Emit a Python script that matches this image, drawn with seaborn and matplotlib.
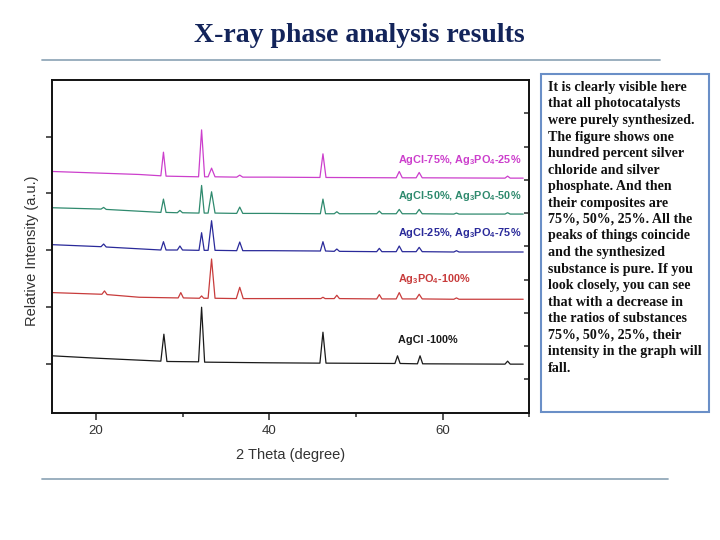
import matplotlib
matplotlib.use("Agg")
import matplotlib.pyplot as plt
from matplotlib.lines import Line2D
from matplotlib.patches import Rectangle
import seaborn as sns
import pandas as pd

# ---------------- data ----------------
title = "X-ray phase analysis results"
x_label = "2 Theta (degree)"
y_label = "Relative Intensity (a.u.)"
x_ticks = [20, 40, 60]
x_minor_ticks = [30, 50, 70]
left_y_ticks = [14.5, 31.8, 49.0, 66.0, 83.0]
right_y_ticks = [10, 20, 30, 40, 50, 60, 70, 80, 90]

series_names = ["AgCl -100%", "Ag3PO4-100%", "AgCl-25%, Ag3PO4-75%",
                "AgCl-50%, Ag3PO4-50%", "AgCl-75%, Ag3PO4-25%"]
series_labels = ["AgCl -100%", r"Ag$_\mathbf{3}$PO$_\mathbf{4}$-100%",
                 r"AgCl-25%, Ag$_\mathbf{3}$PO$_\mathbf{4}$-75%",
                 r"AgCl-50%, Ag$_\mathbf{3}$PO$_\mathbf{4}$-50%",
                 r"AgCl-75%, Ag$_\mathbf{3}$PO$_\mathbf{4}$-25%"]
series_colors = ["#1a1a1a", "#c83c3c", "#2a2a9a", "#2f8a6e", "#cc3fcc"]
label_y = [21.8, 40.2, 54.0, 65.0, 76.0]
label_x = 54.9

agcl100_x = [15, 20, 25, 27.5, 27.85, 28.2, 31.85, 32.2, 32.55, 40,
             45.85, 46.2, 46.55, 54.5, 54.8, 55.1, 57.1, 57.4, 57.7,
             67.2, 67.5, 67.8, 69.3]
agcl100_y = [17.1, 16.4, 15.8, 15.5, 23.6, 15.4, 15.3, 31.7, 15.2, 15.0,
             14.9, 24.2, 14.9, 14.8, 17.1, 14.8, 14.7, 17.1, 14.7,
             14.6, 15.5, 14.6, 14.6]

ag3po4_x = [15, 20.7, 21.0, 21.3, 25, 29.5, 29.8, 30.1, 31.95, 32.2, 32.45,
            32.95, 33.35, 33.75, 36.2, 36.6, 37.0, 40, 45.95, 46.2, 46.45,
            47.5, 47.8, 48.1, 52.4, 52.7, 53.0, 54.65, 55.0, 55.35,
            56.95, 57.3, 57.65, 61.3, 61.6, 61.9, 69.3]
ag3po4_y = [36.1, 35.6, 36.6, 35.5, 34.7, 34.5, 36.1, 34.5, 34.4, 35.1, 34.4,
            34.4, 46.2, 34.4, 34.3, 37.7, 34.3, 34.3, 34.3, 34.7, 34.3,
            34.3, 35.3, 34.3, 34.2, 35.5, 34.2, 34.2, 36.1, 34.2,
            34.2, 35.6, 34.2, 34.1, 34.5, 34.1, 34.1]

mix25_x = [15, 20.6, 20.9, 21.2, 27.5, 27.8, 28.1, 29.4, 29.7, 30.0,
           31.9, 32.2, 32.5, 32.95, 33.35, 33.75, 36.25, 36.6, 36.95, 40,
           45.9, 46.2, 46.5, 47.5, 47.8, 48.1, 52.4, 52.7, 53.0,
           54.65, 55.0, 55.35, 56.95, 57.3, 57.65, 61.3, 61.6, 61.9, 69.3]
mix25_y = [50.5, 49.9, 50.7, 49.8, 48.9, 51.4, 48.9, 48.9, 50.1, 48.9,
           48.8, 54.1, 48.8, 48.8, 57.7, 48.8, 48.7, 51.3, 48.7, 48.7,
           48.6, 51.4, 48.6, 48.5, 49.2, 48.5, 48.4, 49.4, 48.4,
           48.4, 50.1, 48.4, 48.4, 49.7, 48.4, 48.3, 48.7, 48.3, 48.3]

mix50_x = [15, 20.6, 20.9, 21.2, 27.5, 27.8, 28.1, 29.4, 29.7, 30.0,
           31.9, 32.2, 32.5, 32.95, 33.35, 33.75, 36.25, 36.6, 36.95, 40,
           45.9, 46.2, 46.5, 47.5, 47.8, 48.1, 52.4, 52.7, 53.0,
           54.65, 55.0, 55.35, 56.95, 57.3, 57.65, 61.3, 61.6, 61.9,
           67.2, 67.5, 67.8, 69.3]
mix50_y = [61.6, 61.2, 61.7, 61.1, 60.2, 64.2, 60.2, 60.1, 60.8, 60.1,
           60.0, 68.3, 60.0, 60.0, 66.4, 60.0, 59.9, 61.8, 59.9, 59.9,
           59.8, 64.2, 59.8, 59.8, 60.4, 59.8, 59.8, 60.6, 59.8,
           59.8, 61.1, 59.8, 59.8, 61.1, 59.8, 59.7, 60.0, 59.7,
           59.7, 60.1, 59.7, 59.7]

mix75_x = [15, 25, 27.5, 27.8, 28.1, 31.85, 32.2, 32.55, 32.95, 33.35, 33.75,
           36.25, 36.6, 36.95, 40, 45.85, 46.2, 46.55, 54.65, 55.0, 55.35,
           56.95, 57.3, 57.65, 67.2, 67.5, 67.8, 69.3]
mix75_y = [72.5, 71.6, 71.2, 78.3, 71.1, 70.9, 85.0, 70.9, 70.9, 73.5, 70.9,
           70.8, 71.4, 70.8, 70.8, 70.7, 77.8, 70.7, 70.6, 72.5, 70.6,
           70.6, 72.2, 70.6, 70.5, 71.1, 70.5, 70.5]

series_x = [agcl100_x, ag3po4_x, mix25_x, mix50_x, mix75_x]
series_y = [agcl100_y, ag3po4_y, mix25_y, mix50_y, mix75_y]

note_lines = [
    "It is clearly visible here",
    "that all photocatalysts",
    "were purely synthesized.",
    "The figure shows one",
    "hundred percent silver",
    "chloride and silver",
    "phosphate. And then",
    "their composites are",
    "75%, 50%, 25%. All the",
    "peaks of things coincide",
    "and the synthesized",
    "substance is pure. If you",
    "look closely, you can see",
    "that with a decrease in",
    "the ratios of substances",
    "75%, 50%, 25%, their",
    "intensity in the graph will",
    "fall.",
]

# ---------------- figure ----------------
sns.set_style("white")
plt.rcParams["font.family"] = ["Liberation Sans", "DejaVu Sans"]
plt.rcParams["mathtext.fontset"] = "custom"
plt.rcParams["mathtext.rm"] = "Liberation Sans"
plt.rcParams["mathtext.bf"] = "Liberation Sans:bold"

frames = []
for name, xs, ys in zip(series_names, series_x, series_y):
    frames.append(pd.DataFrame({"theta": xs, "intensity": ys, "sample": name}))
df = pd.concat(frames, ignore_index=True)

fig = plt.figure(figsize=(7.2, 5.4), dpi=100)
ax = fig.add_axes([0.0729, 0.2357, 0.6622, 0.6162])

sns.lineplot(data=df, x="theta", y="intensity", hue="sample",
             hue_order=series_names, palette=series_colors,
             sort=False, estimator=None, legend=False, linewidth=0.9, ax=ax)

ax.set_xlim(15, 70)
ax.set_ylim(0, 100)
ax.set_xticks(x_ticks)
ax.set_xticks(x_minor_ticks, minor=True)
ax.set_yticks(left_y_ticks)
ax.set_yticklabels([])
ax.tick_params(axis="x", which="major", direction="out", length=5, width=1.1,
               labelsize=9.5, labelcolor="#333333", pad=4, bottom=True)
ax.tick_params(axis="x", which="minor", direction="out", length=3, width=1.1,
               bottom=True)
ax.tick_params(axis="y", which="major", direction="out", length=4, width=1.1,
               left=True)
for s in ax.spines.values():
    s.set_linewidth(1.2)
    s.set_color("#111111")

ax2 = ax.twinx()
ax2.set_ylim(0, 100)
ax2.set_yticks(right_y_ticks)
ax2.set_yticklabels([])
ax2.tick_params(axis="y", direction="in", length=3.5, width=1.1, right=True)
for s in ax2.spines.values():
    s.set_linewidth(1.2)
    s.set_color("#111111")

ax.set_xlabel(x_label, fontsize=10.5, color="#333333", labelpad=8)
ax.set_ylabel("")
fig.text(0.045, 0.535, y_label, rotation=90, ha="center", va="center",
         fontsize=10.5, color="#333333")

for lab, ly, col in zip(series_labels, label_y, series_colors):
    ax.text(label_x, ly, lab, color=col, fontsize=7.8, fontweight="bold",
            ha="left", va="center")

# title and decorative lines
fig.text(0.499, 0.934, title, ha="center", va="center", fontsize=20,
         fontweight="bold", color="#13245a",
         family=["Liberation Serif", "DejaVu Serif"])
fig.add_artist(Line2D([42 / 720, 660 / 720], [1 - 60 / 540, 1 - 60 / 540],
                      color="#93a9ba", linewidth=1.3))
fig.add_artist(Line2D([42 / 720, 668 / 720], [1 - 479 / 540, 1 - 479 / 540],
                      color="#93a9ba", linewidth=1.3))

# note box
fig.add_artist(Rectangle((541 / 720, 1 - 412 / 540), 168 / 720, 338 / 540,
                         transform=fig.transFigure, facecolor="white",
                         edgecolor="#6a8fc7", linewidth=1.5))
fig.text(548 / 720, 1 - 81 / 540, "\n".join(note_lines), ha="left", va="top",
         fontsize=10.1, fontweight="bold", color="#111111", linespacing=1.35,
         family=["Liberation Serif", "DejaVu Serif"])

fig.savefig("out.png", dpi=100)
